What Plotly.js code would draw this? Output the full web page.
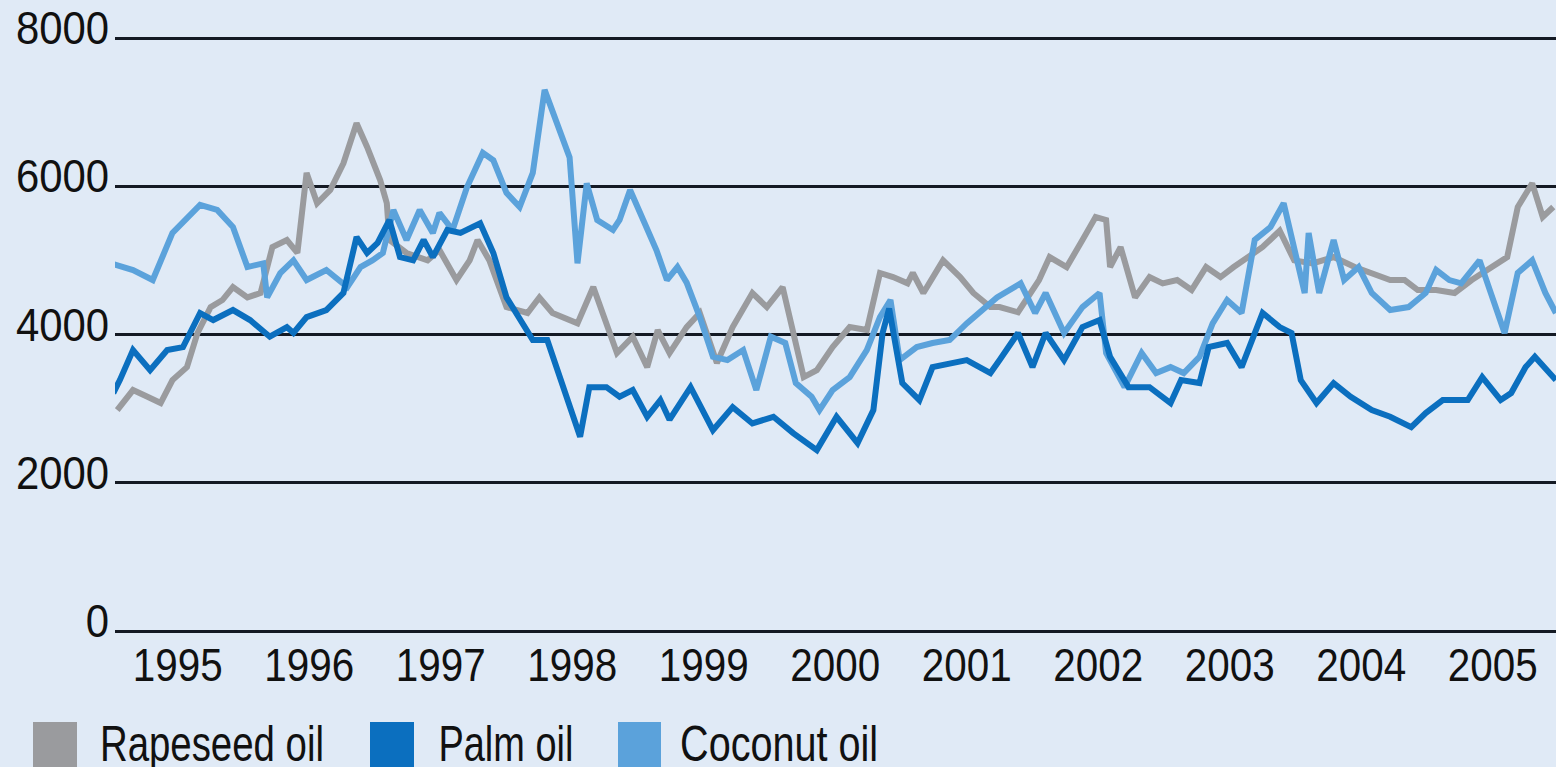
<!DOCTYPE html>
<html>
<head>
<meta charset="utf-8">
<script src="https://cdn.plot.ly/plotly-3.0.1.min.js"></script>
<style>
html,body{margin:0;padding:0;background:#e0eaf6;}
#chart{width:1556px;height:767px;}
</style>
</head>
<body>
<div id="chart"></div>
<script>
// Series names and colours
const seriesNames = ["Rapeseed oil", "Palm oil", "Coconut oil"];
const seriesColors = ["#9a9b9e", "#0b6fbf", "#5ba2db"];

// Tick labels
const yTickVals = [0, 2000, 4000, 6000, 8000];
const xTickVals = [1995.5,1996.5,1997.5,1998.5,1999.5,2000.5,2001.5,2002.5,2003.5,2004.5,2005.5];
const xTickText = ["1995","1996","1997","1998","1999","2000","2001","2002","2003","2004","2005"];

// Rapeseed oil
const rapeseedX = [1995.04,1995.16,1995.27,1995.37,1995.46,1995.57,1995.65,1995.75,1995.84,1995.92,1996.03,1996.13,1996.22,1996.33,1996.41,1996.48,1996.56,1996.66,1996.76,1996.86,1996.94,1997.04,1997.09,1997.11,1997.24,1997.40,1997.49,1997.62,1997.72,1997.78,1997.87,1998.00,1998.16,1998.25,1998.35,1998.54,1998.66,1998.73,1998.84,1998.96,1999.07,1999.15,1999.24,1999.37,1999.47,1999.60,1999.72,1999.87,1999.98,2000.10,2000.18,2000.26,2000.36,2000.48,2000.61,2000.74,2000.84,2000.94,2001.05,2001.09,2001.17,2001.32,2001.45,2001.55,2001.68,2001.75,2001.89,2002.05,2002.13,2002.26,2002.38,2002.48,2002.56,2002.59,2002.67,2002.78,2002.89,2002.99,2003.10,2003.21,2003.32,2003.43,2003.53,2003.64,2003.75,2003.88,2003.99,2004.13,2004.29,2004.45,2004.58,2004.72,2004.83,2004.93,2005.07,2005.21,2005.34,2005.50,2005.61,2005.69,2005.80,2005.88,2005.96];
const rapeseedY = [2980,3250,3160,3075,3385,3560,4020,4370,4465,4640,4500,4560,5180,5275,5100,6180,5770,5950,6310,6850,6530,6080,5770,5275,5100,5000,5140,4735,5000,5275,5000,4370,4290,4500,4290,4150,4640,4290,3750,3970,3560,4060,3750,4100,4290,3615,4100,4560,4370,4640,4020,3425,3520,3830,4100,4060,4830,4775,4690,4830,4560,5000,4775,4560,4370,4370,4300,4735,5045,4910,5275,5585,5545,4910,5180,4500,4775,4690,4735,4600,4910,4775,4910,5045,5180,5400,5000,4960,5045,4910,4830,4735,4735,4600,4600,4560,4735,4910,5045,5720,6040,5585,5720];

// Palm oil
const palmX = [1995.01,1995.06,1995.16,1995.29,1995.42,1995.54,1995.67,1995.77,1995.92,1996.05,1996.20,1996.33,1996.38,1996.48,1996.63,1996.76,1996.86,1996.94,1997.02,1997.11,1997.19,1997.29,1997.37,1997.44,1997.55,1997.65,1997.80,1997.90,1998.00,1998.10,1998.20,1998.31,1998.43,1998.56,1998.63,1998.76,1998.86,1998.96,1999.07,1999.17,1999.24,1999.40,1999.57,1999.72,1999.87,2000.03,2000.18,2000.36,2000.51,2000.67,2000.79,2000.86,2000.91,2001.01,2001.14,2001.24,2001.50,2001.68,2001.75,2001.89,2002.00,2002.10,2002.24,2002.38,2002.51,2002.59,2002.73,2002.89,2003.05,2003.13,2003.27,2003.34,2003.48,2003.59,2003.75,2003.88,2003.97,2004.04,2004.16,2004.29,2004.42,2004.58,2004.72,2004.88,2004.99,2005.12,2005.31,2005.42,2005.56,2005.64,2005.75,2005.82,2005.98];
const palmY = [3210,3385,3790,3520,3790,3830,4290,4195,4330,4195,3970,4100,4020,4235,4330,4560,5315,5100,5235,5545,5045,5000,5275,5045,5410,5370,5500,5100,4500,4195,3925,3925,3290,2620,3290,3290,3160,3250,2890,3115,2850,3290,2710,3020,2800,2890,2670,2440,2890,2535,2980,4020,4350,3345,3115,3560,3655,3480,3655,4020,3560,4020,3655,4100,4195,3700,3290,3290,3075,3385,3345,3830,3885,3560,4290,4100,4020,3385,3075,3345,3160,2980,2890,2750,2940,3115,3115,3425,3115,3210,3560,3700,3385];

// Coconut oil
const coconutX = [1995.01,1995.16,1995.31,1995.46,1995.67,1995.80,1995.92,1996.03,1996.15,1996.18,1996.28,1996.38,1996.48,1996.63,1996.79,1996.89,1996.98,1997.06,1997.14,1997.24,1997.34,1997.44,1997.49,1997.59,1997.70,1997.82,1997.90,1998.00,1998.10,1998.20,1998.29,1998.41,1998.48,1998.54,1998.61,1998.69,1998.81,1998.86,1998.94,1999.04,1999.14,1999.22,1999.30,1999.37,1999.47,1999.57,1999.68,1999.80,1999.90,2000.01,2000.12,2000.20,2000.32,2000.38,2000.48,2000.61,2000.74,2000.84,2000.92,2000.99,2001.12,2001.24,2001.37,2001.50,2001.62,2001.73,2001.91,2002.02,2002.10,2002.24,2002.38,2002.51,2002.56,2002.70,2002.83,2002.94,2003.05,2003.15,2003.27,2003.37,2003.48,2003.59,2003.69,2003.81,2003.91,2003.99,2004.07,2004.10,2004.18,2004.29,2004.37,2004.48,2004.58,2004.72,2004.86,2004.99,2005.07,2005.17,2005.26,2005.40,2005.47,2005.59,2005.69,2005.80,2005.90,2005.98];
const coconutY = [4950,4870,4735,5370,5750,5680,5450,4910,4960,4500,4830,5000,4735,4870,4640,4910,5000,5100,5680,5275,5680,5370,5640,5410,5990,6450,6350,5910,5720,6180,7300,6720,6390,4960,6040,5545,5410,5545,5950,5545,5140,4735,4910,4700,4235,3700,3655,3790,3250,3970,3885,3345,3160,2980,3250,3425,3790,4235,4465,3655,3830,3885,3925,4150,4330,4500,4690,4290,4560,4020,4370,4560,3750,3290,3750,3480,3560,3480,3700,4150,4465,4290,5275,5450,5770,5180,4560,5370,4560,5275,4735,4910,4560,4330,4370,4560,4870,4735,4690,5000,4640,4020,4830,5000,4560,4290];

// drawing order: rapeseed (back), coconut, palm (front)
const drawX = [rapeseedX, coconutX, palmX];
const drawY = [rapeseedY, coconutY, palmY];
const drawName = [0, 2, 1];

const traces = [0,1,2].map(i => ({
  type: 'scatter', mode: 'lines',
  x: drawX[i], y: drawY[i],
  name: seriesNames[drawName[i]],
  line: {color: seriesColors[drawName[i]], width: 6},
  showlegend: false, hoverinfo: 'skip'
}));

// layout geometry (pixels)
const W = 1556, H = 767, L = 115, R = 0, T = 36, B = 134;
const Y0 = -27, Y1 = 8027;
const plotW = W - L - R, plotH = H - T - B;
const px = v => (v - L) / plotW;
const py = v => (H - B - v) / plotH;

const FONT = '"Liberation Sans", Arial, sans-serif';

const legendSquares = [[33,77],[370,414],[618,661]];
const legendCenters = [212, 506, 779];
const legendWidths = [224, 135, 198];
const shapes = [], annotations = [];
[0,1,2].forEach(i => {
  shapes.push({type:'rect', xref:'paper', yref:'paper',
    x0: px(legendSquares[i][0]), x1: px(legendSquares[i][1]),
    y0: py(722), y1: py(780),
    fillcolor: seriesColors[i], line:{width:0}, layer:'above'});
  annotations.push({xref:'paper', yref:'paper', x: px(legendCenters[i]), y: py(744),
    xanchor:'center', yanchor:'middle', text: seriesNames[i], showarrow:false,
    font:{family: FONT, size: 50, color:'#111'}});
});

const layout = {
  width: W, height: H,
  margin: {l: L, r: R, t: T, b: B, pad: 0},
  paper_bgcolor: '#e0eaf6', plot_bgcolor: '#e0eaf6',
  showlegend: false,
  xaxis: {
    range: [1995.023, 2005.981], showgrid: false, zeroline: false, showline: false,
    tickmode: 'array', tickvals: xTickVals, ticktext: xTickText, ticks: '',
    tickfont: {family: FONT, size: 47, color: '#111'}, fixedrange: true
  },
  yaxis: {
    range: [Y0, Y1], tickmode: 'array', tickvals: yTickVals,
    showgrid: true, gridcolor: '#141a24', gridwidth: 3, zeroline: false, showline: false,
    ticks: '', ticklabelstandoff: 5, ticklabelshift: -10,
    tickfont: {family: FONT, size: 46, color: '#111'}, fixedrange: true
  },
  shapes: shapes, annotations: annotations
};

Plotly.newPlot('chart', traces, layout, {displayModeBar: false, staticPlot: true}).then(gd => {
  // condense glyphs horizontally to match the narrow typeface of the original
  const squeeze = (sel, f) => gd.querySelectorAll(sel).forEach(t => {
    const w = t.getComputedTextLength();
    t.setAttribute('lengthAdjust', 'spacingAndGlyphs');
    t.setAttribute('textLength', (w * f).toFixed(1));
  });
  squeeze('.xtick text', 0.86);
  squeeze('.ytick text', 0.91);
  gd.querySelectorAll('.annotation-text').forEach((t, i) => {
    t.setAttribute('lengthAdjust', 'spacingAndGlyphs');
    t.setAttribute('textLength', legendWidths[i]);
  });
});
</script>
</body>
</html>
